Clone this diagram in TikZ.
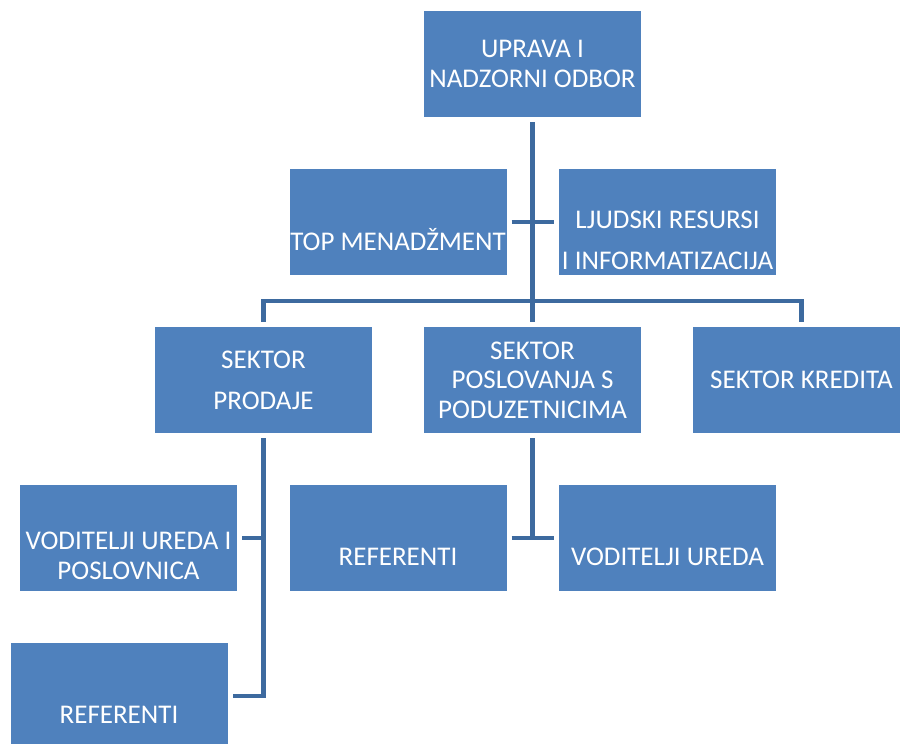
\documentclass[tikz,border=0pt]{standalone}
\usepackage{fontspec}
\setmainfont{Carlito}
\usepackage{tikz}
\usetikzlibrary{calc}

\definecolor{boxblue}{HTML}{4F81BD}
\definecolor{lineblue}{HTML}{3D6A9F}

\begin{document}
\begin{tikzpicture}[
    x=1pt, y=-1pt,
    unit/.style={rectangle, fill=boxblue, draw=none, minimum width=217pt, minimum height=106pt, inner sep=0pt},
    txt/.style={text=white, align=center, inner sep=0pt, font=\fontsize{27}{29.5}\selectfont},
    loose/.style={txt, font=\fontsize{27}{41}\selectfont},
    conn/.style={draw=lineblue, line width=4.6pt}
]
\useasboundingbox (0,0) rectangle (900,744);

% Top level
\node[unit] (uprava) at (532.5, 64) {};
\node[txt] (uprava-txt) at (uprava) {UPRAVA I\\NADZORNI ODBOR};

% Staff units
\node[unit] (menadzment) at (398, 222) {};
\node[txt] (menadzment-txt) at ($(menadzment)+(0,18)$) {TOP MENADŽMENT};
\node[unit] (ljudski) at (667.5, 222) {};
\node[loose] (ljudski-txt) at ($(ljudski)+(0,18)$) {LJUDSKI RESURSI\\I INFORMATIZACIJA};

% Sectors
\node[unit] (prodaja) at (263.5, 380) {};
\node[loose] (prodaja-txt) at (prodaja) {SEKTOR\\PRODAJE};
\node[unit] (poslovanje) at (532.5, 380) {};
\node[txt] (poslovanje-txt) at (poslovanje) {SEKTOR\\POSLOVANJA S\\PODUZETNICIMA};
\node[unit] (kredita) at (801.5, 380) {};
\node[txt] (kredita-txt) at (kredita) {SEKTOR KREDITA};

% Units below the sectors
\node[unit] (voditeljiL) at (128.5, 538) {};
\node[txt] (voditeljiL-txt) at ($(voditeljiL)+(0,18)$) {VODITELJI UREDA I\\POSLOVNICA};
\node[unit] (referentiL) at (119, 696) {};
\node[txt] (referentiL-txt) at ($(referentiL)+(0,19)$) {REFERENTI};
\node[unit] (referentiM) at (398, 538) {};
\node[txt] (referentiM-txt) at ($(referentiM)+(0,19)$) {REFERENTI};
\node[unit] (voditeljiM) at (667.5, 538) {};
\node[txt] (voditeljiM-txt) at ($(voditeljiM)+(0,19)$) {VODITELJI UREDA};

% Connectors
\coordinate (bus) at (532.5, 301);
\draw[conn] ([yshift=-5pt]uprava.south) -- ([yshift=5pt]poslovanje.north);
\draw[conn] ([xshift=5pt]menadzment.east) -- ([xshift=-5pt]ljudski.west);
\draw[conn] ([yshift=5pt]prodaja.north) |- (bus) -| ([yshift=5pt]kredita.north);
\draw[conn] ([yshift=-5pt]prodaja.south) |- ([xshift=5pt]referentiL.east);
\draw[conn] ([xshift=5pt]voditeljiL.east) -- (voditeljiL.east -| prodaja.south);
\draw[conn] ([yshift=-5pt]poslovanje.south) -- (poslovanje.south |- referentiM.east);
\draw[conn] ([xshift=5pt]referentiM.east) -- ([xshift=-5pt]voditeljiM.west);

\end{tikzpicture}
\end{document}
